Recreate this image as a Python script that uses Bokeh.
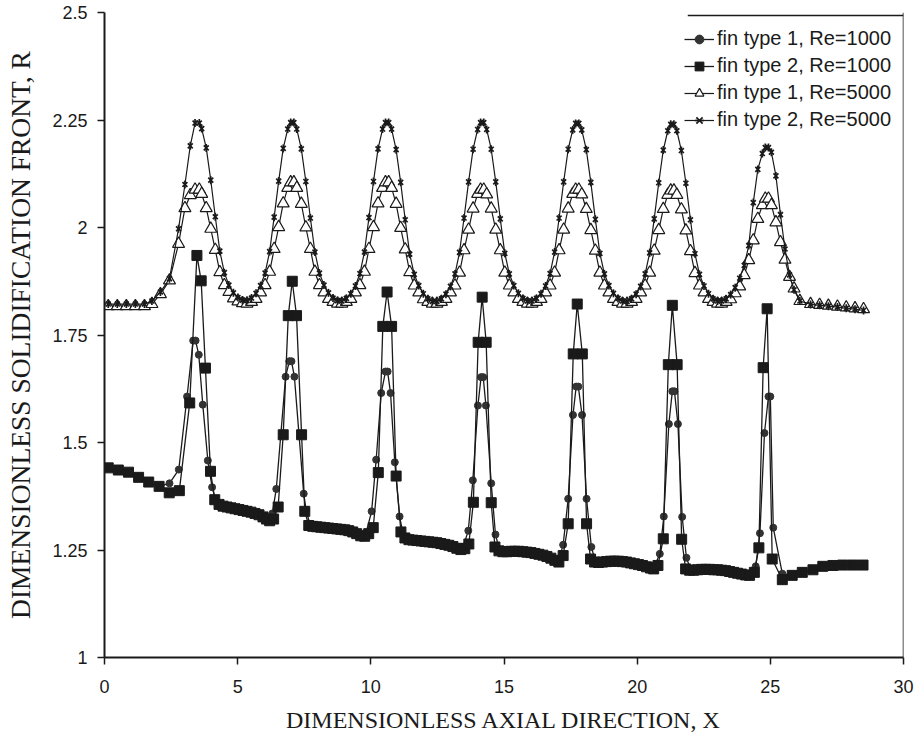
import numpy as np
from bokeh.plotting import figure
from bokeh.models import Range1d, FixedTicker, CustomJSTickFormatter, Legend, LegendItem, Span
from bokeh.embed import file_html
from bokeh.resources import INLINE

# ---------------- data ----------------
x_ticks = [0, 5, 10, 15, 20, 25, 30]
y_ticks = [1.0, 1.25, 1.5, 1.75, 2.0, 2.25, 2.5]

series_labels = ["fin type 1, Re=1000", "fin type 2, Re=1000",
                 "fin type 1, Re=5000", "fin type 2, Re=5000"]

# Re = 5000 (shared axial positions)
x_re5000 = [0.14, 0.48, 0.82, 1.16, 1.50, 1.78, 2.10, 2.44, 2.78, 3.02, 3.22, 3.40, 3.56,
            3.65, 3.82, 3.99, 4.16, 4.33, 4.50, 4.67, 4.84, 5.01, 5.18,
            5.35, 5.52, 5.69, 5.86, 6.03, 6.20, 6.37, 6.54, 6.71, 6.88, 6.99, 7.11,
            7.22, 7.39, 7.56, 7.73, 7.90, 8.07, 8.24, 8.41, 8.58, 8.75,
            8.91, 9.08, 9.25, 9.42, 9.59, 9.76, 9.93, 10.10, 10.27, 10.44, 10.55, 10.67,
            10.78, 10.95, 11.12, 11.29, 11.46, 11.63, 11.80, 11.97, 12.14, 12.31,
            12.48, 12.65, 12.82, 12.99, 13.16, 13.33, 13.50, 13.67, 13.84, 14.01, 14.12, 14.24,
            14.35, 14.52, 14.69, 14.86, 15.03, 15.20, 15.37, 15.54, 15.71, 15.88,
            16.05, 16.22, 16.39, 16.56, 16.73, 16.90, 17.07, 17.24, 17.41, 17.58, 17.69, 17.81,
            17.92, 18.09, 18.26, 18.43, 18.60, 18.77, 18.94, 19.11, 19.28, 19.45,
            19.62, 19.79, 19.96, 20.13, 20.30, 20.47, 20.64, 20.81, 20.98, 21.15, 21.26, 21.38,
            21.49, 21.66, 21.83, 22.00, 22.17, 22.34, 22.51, 22.68, 22.85, 23.02,
            23.17, 23.34, 23.51, 23.68, 23.85, 24.02, 24.19, 24.36, 24.53, 24.70, 24.81, 24.93,
            25.04, 25.21, 25.38, 25.55, 25.72, 25.89, 26.11, 26.51, 26.85, 27.18, 27.52, 27.85, 28.18, 28.50]

r_type2_re5000 = [1.822, 1.822, 1.822, 1.822, 1.822, 1.829, 1.850, 1.881, 1.997, 2.100, 2.190, 2.243, 2.243,
                  2.230, 2.185, 2.110, 2.025, 1.945, 1.895, 1.866, 1.848, 1.837, 1.831,
                  1.830, 1.836, 1.847, 1.865, 1.894, 1.944, 2.024, 2.108, 2.184, 2.229, 2.244, 2.244,
                  2.229, 2.183, 2.107, 2.022, 1.943, 1.894, 1.866, 1.848, 1.836, 1.830,
                  1.829, 1.835, 1.846, 1.864, 1.893, 1.943, 2.023, 2.107, 2.183, 2.229, 2.244, 2.244,
                  2.229, 2.181, 2.105, 2.018, 1.938, 1.891, 1.865, 1.846, 1.834, 1.828,
                  1.828, 1.834, 1.845, 1.863, 1.892, 1.942, 2.022, 2.106, 2.182, 2.228, 2.244, 2.244,
                  2.228, 2.182, 2.106, 2.020, 1.940, 1.892, 1.865, 1.847, 1.835, 1.829,
                  1.829, 1.835, 1.846, 1.864, 1.893, 1.943, 2.022, 2.106, 2.182, 2.227, 2.242, 2.242,
                  2.227, 2.181, 2.105, 2.019, 1.940, 1.892, 1.865, 1.847, 1.835, 1.829,
                  1.828, 1.834, 1.845, 1.863, 1.892, 1.941, 2.020, 2.104, 2.180, 2.225, 2.240, 2.240,
                  2.225, 2.179, 2.103, 2.018, 1.939, 1.891, 1.864, 1.846, 1.834, 1.829,
                  1.829, 1.834, 1.844, 1.860, 1.882, 1.912, 1.958, 2.058, 2.135, 2.172, 2.186, 2.186,
                  2.175, 2.120, 2.030, 1.950, 1.890, 1.855, 1.829, 1.821, 1.819, 1.817, 1.815, 1.812, 1.810, 1.807]

r_type1_re5000 = [1.817, 1.817, 1.817, 1.817, 1.817, 1.822, 1.845, 1.877, 1.962, 2.045, 2.075, 2.088, 2.088,
                  2.078, 2.045, 1.997, 1.948, 1.896, 1.866, 1.850, 1.835, 1.828, 1.824,
                  1.823, 1.827, 1.834, 1.849, 1.866, 1.897, 1.950, 2.001, 2.056, 2.092, 2.105, 2.105,
                  2.092, 2.055, 2.000, 1.950, 1.897, 1.866, 1.849, 1.834, 1.827, 1.823,
                  1.823, 1.827, 1.834, 1.849, 1.866, 1.897, 1.950, 2.001, 2.056, 2.092, 2.105, 2.105,
                  2.092, 2.055, 1.999, 1.949, 1.896, 1.865, 1.849, 1.833, 1.827, 1.823,
                  1.823, 1.827, 1.834, 1.849, 1.865, 1.895, 1.947, 1.995, 2.044, 2.078, 2.088, 2.088,
                  2.077, 2.044, 1.995, 1.947, 1.895, 1.865, 1.849, 1.834, 1.827, 1.823,
                  1.823, 1.827, 1.834, 1.849, 1.865, 1.895, 1.947, 1.995, 2.044, 2.078, 2.088, 2.088,
                  2.077, 2.043, 1.994, 1.946, 1.895, 1.865, 1.849, 1.834, 1.827, 1.823,
                  1.823, 1.827, 1.834, 1.849, 1.865, 1.895, 1.946, 1.994, 2.043, 2.076, 2.086, 2.086,
                  2.076, 2.042, 1.993, 1.945, 1.894, 1.865, 1.849, 1.834, 1.827, 1.823,
                  1.823, 1.827, 1.833, 1.847, 1.863, 1.889, 1.924, 1.970, 2.020, 2.052, 2.067, 2.067,
                  2.052, 2.012, 1.966, 1.925, 1.885, 1.858, 1.829, 1.822, 1.820, 1.818, 1.816, 1.814, 1.812, 1.810]

# Re = 1000, fin type 2 (squares)
x_type2_re1000 = [0.14, 0.52, 0.90, 1.28, 1.66, 2.05, 2.43, 2.81,
                  3.20, 3.47, 3.63, 3.79, 3.98, 4.14,
                  4.30, 4.45, 4.60, 4.75, 4.90, 5.05, 5.20, 5.35, 5.50, 5.65, 5.80, 5.95, 6.08, 6.20, 6.35,
                  6.52, 6.71, 6.90, 7.05, 7.21, 7.40, 7.52, 7.67,
                  7.82, 7.97, 8.12, 8.27, 8.42, 8.57, 8.72, 8.87, 9.02, 9.17, 9.32, 9.47, 9.62, 9.77, 9.92,
                  10.09, 10.28, 10.45, 10.61, 10.78, 10.95, 11.13,
                  11.28, 11.43, 11.58, 11.73, 11.88, 12.03, 12.18, 12.33, 12.48, 12.63, 12.78, 12.93, 13.08, 13.23, 13.38, 13.53,
                  13.68, 13.85, 14.03, 14.18, 14.33, 14.52, 14.66,
                  14.81, 14.96, 15.11, 15.26, 15.41, 15.56, 15.71, 15.86, 16.01, 16.16, 16.31, 16.46, 16.61, 16.76, 16.91, 17.06,
                  17.22, 17.41, 17.60, 17.75, 17.94, 18.10, 18.25,
                  18.40, 18.55, 18.70, 18.85, 19.00, 19.15, 19.30, 19.45, 19.60, 19.75, 19.90, 20.05, 20.20, 20.35, 20.50, 20.62,
                  20.78, 20.98, 21.17, 21.32, 21.50, 21.67, 21.82,
                  21.97, 22.12, 22.27, 22.42, 22.57, 22.72, 22.87, 23.02, 23.17, 23.32, 23.47, 23.62, 23.77, 23.92, 24.07, 24.22, 24.40,
                  24.57, 24.73, 24.88, 25.07, 25.45,
                  25.82, 26.20, 26.60, 26.97, 27.35, 27.72, 28.10, 28.48]
r_type2_re1000 = [1.441, 1.436, 1.431, 1.419, 1.408, 1.398, 1.383, 1.388,
                  1.592, 1.935, 1.876, 1.673, 1.433, 1.367,
                  1.356, 1.352, 1.350, 1.348, 1.346, 1.344, 1.342, 1.340, 1.338, 1.335, 1.332, 1.327, 1.322, 1.318, 1.322,
                  1.350, 1.518, 1.795, 1.875, 1.795, 1.518, 1.340, 1.307,
                  1.305, 1.304, 1.303, 1.302, 1.301, 1.300, 1.299, 1.298, 1.297, 1.295, 1.292, 1.288, 1.283, 1.282, 1.288,
                  1.302, 1.430, 1.770, 1.850, 1.770, 1.422, 1.292,
                  1.278, 1.274, 1.273, 1.272, 1.271, 1.270, 1.269, 1.268, 1.267, 1.265, 1.263, 1.261, 1.258, 1.254, 1.251, 1.253,
                  1.264, 1.361, 1.733, 1.838, 1.733, 1.360, 1.257,
                  1.248, 1.246, 1.246, 1.247, 1.247, 1.247, 1.246, 1.245, 1.244, 1.242, 1.240, 1.238, 1.235, 1.231, 1.226, 1.222,
                  1.237, 1.311, 1.706, 1.822, 1.706, 1.311, 1.229,
                  1.222, 1.221, 1.222, 1.223, 1.224, 1.224, 1.224, 1.223, 1.222, 1.220, 1.218, 1.216, 1.214, 1.211, 1.208, 1.206,
                  1.214, 1.276, 1.681, 1.819, 1.681, 1.275, 1.206,
                  1.203, 1.203, 1.204, 1.205, 1.205, 1.205, 1.204, 1.204, 1.203, 1.202, 1.200, 1.198, 1.196, 1.194, 1.192, 1.191, 1.198,
                  1.255, 1.674, 1.811, 1.229, 1.181,
                  1.191, 1.198, 1.204, 1.212, 1.214, 1.215, 1.215, 1.215]

# Re = 1000, fin type 1 (circles)
x_type1_re1000 = [0.14, 0.52, 0.90, 1.28, 1.66, 2.05, 2.44, 2.79,
                  3.10, 3.33, 3.42, 3.54, 3.69, 3.88, 4.04, 4.20,
                  4.35, 4.50, 4.65, 4.80, 4.95, 5.10, 5.25, 5.40, 5.55, 5.70, 5.85, 6.00, 6.15, 6.30,
                  6.45, 6.80, 6.94, 7.02, 7.13, 7.48, 7.57, 7.72,
                  7.87, 8.02, 8.17, 8.32, 8.47, 8.62, 8.77, 8.92, 9.07, 9.22, 9.37, 9.52, 9.67, 9.82,
                  10.03, 10.20, 10.39, 10.55, 10.63, 10.74, 10.90, 11.08, 11.22,
                  11.37, 11.52, 11.67, 11.82, 11.97, 12.12, 12.27, 12.42, 12.57, 12.72, 12.87, 13.02, 13.17, 13.32, 13.47,
                  13.66, 13.83, 14.02, 14.14, 14.22, 14.32, 14.52, 14.68, 14.82,
                  14.97, 15.12, 15.27, 15.42, 15.57, 15.72, 15.87, 16.02, 16.17, 16.32, 16.47, 16.62, 16.77, 16.92, 17.07,
                  17.22, 17.41, 17.59, 17.71, 17.79, 17.93, 18.10, 18.28, 18.42,
                  18.57, 18.72, 18.87, 19.02, 19.17, 19.32, 19.47, 19.62, 19.77, 19.92, 20.07, 20.22, 20.37, 20.52, 20.67,
                  20.85, 21.00, 21.19, 21.32, 21.40, 21.53, 21.69, 21.85, 22.00,
                  22.15, 22.30, 22.45, 22.60, 22.75, 22.90, 23.05, 23.20, 23.35, 23.50, 23.65, 23.80, 23.95, 24.10, 24.25,
                  24.45, 24.61, 24.78, 24.93, 25.00, 25.11, 25.45,
                  25.82, 26.20, 26.60, 26.97, 27.35, 27.72, 28.10, 28.48]
r_type1_re1000 = [1.441, 1.436, 1.431, 1.419, 1.408, 1.398, 1.405, 1.437,
                  1.607, 1.737, 1.737, 1.704, 1.588, 1.458, 1.396, 1.362,
                  1.354, 1.351, 1.349, 1.347, 1.345, 1.343, 1.341, 1.339, 1.337, 1.334, 1.331, 1.326, 1.322, 1.335,
                  1.392, 1.653, 1.689, 1.689, 1.653, 1.381, 1.343, 1.308,
                  1.305, 1.304, 1.303, 1.302, 1.301, 1.300, 1.299, 1.298, 1.296, 1.294, 1.291, 1.287, 1.284, 1.290,
                  1.340, 1.460, 1.615, 1.665, 1.665, 1.615, 1.454, 1.328, 1.284,
                  1.275, 1.273, 1.272, 1.271, 1.270, 1.269, 1.268, 1.267, 1.266, 1.264, 1.262, 1.259, 1.256, 1.253, 1.258,
                  1.295, 1.412, 1.586, 1.652, 1.652, 1.586, 1.405, 1.286, 1.252,
                  1.246, 1.246, 1.247, 1.247, 1.247, 1.246, 1.245, 1.244, 1.242, 1.240, 1.238, 1.235, 1.231, 1.227, 1.230,
                  1.262, 1.369, 1.564, 1.630, 1.630, 1.564, 1.369, 1.257, 1.226,
                  1.221, 1.222, 1.223, 1.224, 1.224, 1.224, 1.223, 1.222, 1.220, 1.218, 1.216, 1.214, 1.211, 1.209, 1.215,
                  1.241, 1.328, 1.543, 1.619, 1.619, 1.543, 1.327, 1.232, 1.206,
                  1.203, 1.204, 1.205, 1.205, 1.205, 1.204, 1.204, 1.203, 1.202, 1.200, 1.198, 1.196, 1.194, 1.192, 1.195,
                  1.212, 1.289, 1.522, 1.607, 1.607, 1.302, 1.195,
                  1.191, 1.198, 1.204, 1.212, 1.214, 1.215, 1.215, 1.215]

assert len(x_re5000) == len(r_type1_re5000) == len(r_type2_re5000)
assert len(x_type1_re1000) == len(r_type1_re1000)
assert len(x_type2_re1000) == len(r_type2_re1000)

# ---------------- figure ----------------
SANS = "Liberation Sans"
SERIF = "Liberation Serif"
INK = "#1a1a1a"

p = figure(width=915, height=738, output_backend="svg", toolbar_location=None,
           x_range=Range1d(0, 30), y_range=Range1d(1, 2.5),
           min_border_left=104, min_border_right=12, min_border_top=12, min_border_bottom=81)
p.grid.visible = False
p.outline_line_color = None
p.background_fill_color = "white"
p.border_fill_color = "white"

# right-hand edge of the plot area
p.add_layout(Span(location=30, dimension="height", line_color=INK, line_width=1.5))

for ax in (p.xaxis[0], p.yaxis[0]):
    ax.axis_line_color = INK
    ax.axis_line_width = 2
    ax.major_tick_line_color = INK
    ax.major_tick_line_width = 1.5
    ax.major_tick_in = 0
    ax.major_tick_out = 7
    ax.minor_tick_line_color = None
    ax.major_label_text_font = SANS
    ax.major_label_text_font_size = "18px"
    ax.major_label_text_color = INK
    ax.axis_label_text_font = SERIF
    ax.axis_label_text_font_style = "normal"
    ax.axis_label_text_color = INK
    ax.formatter = CustomJSTickFormatter(code="return String(tick);")

p.xaxis.ticker = FixedTicker(ticks=x_ticks)
p.yaxis.ticker = FixedTicker(ticks=y_ticks)
p.xaxis.axis_label = "DIMENSIONLESS AXIAL DIRECTION, X"
p.yaxis.axis_label = "DIMENSIONLESS SOLIDIFICATION FRONT, R"
p.xaxis.axis_label_text_font_size = "24px"
p.yaxis.axis_label_text_font_size = "27.5px"
p.xaxis.major_label_standoff = 15
p.yaxis.major_label_standoff = 10
p.xaxis.axis_label_standoff = 11
p.yaxis.axis_label_standoff = 13

# series 1: fin type 1, Re=1000 (small dark circles)
l1 = p.line(x_type1_re1000, r_type1_re1000, line_color=INK, line_width=1.3)
m1 = p.scatter(x_type1_re1000, r_type1_re1000, marker="circle", size=7,
               fill_color="#333333", line_color="#333333")
# series 2: fin type 2, Re=1000 (black squares)
l2 = p.line(x_type2_re1000, r_type2_re1000, line_color=INK, line_width=1.3)
m2 = p.scatter(x_type2_re1000, r_type2_re1000, marker="square", size=10,
               fill_color=INK, line_color=INK)
# series 3: fin type 1, Re=5000 (open triangles)
l3 = p.line(x_re5000, r_type1_re5000, line_color=INK, line_width=1.2)
m3 = p.scatter(x_re5000, r_type1_re5000, marker="triangle", size=12,
               fill_color="white", line_color=INK, line_width=1.2)
# series 4: fin type 2, Re=5000 (star)
l4 = p.line(x_re5000, r_type2_re5000, line_color=INK, line_width=1.2)
m4a = p.scatter(x_re5000, r_type2_re5000, marker="x", size=7, line_color=INK, line_width=1.7)
m4b = p.scatter(x_re5000, r_type2_re5000, marker="dash", size=8, angle=np.pi / 2,
                line_color=INK, line_width=1.7)

# legend (its frame shows only as the top edge joined to the right plot edge)
legend = Legend(items=[
    LegendItem(label=series_labels[0], renderers=[l1, m1]),
    LegendItem(label=series_labels[1], renderers=[l2, m2]),
    LegendItem(label=series_labels[2], renderers=[l3, m3]),
    LegendItem(label=series_labels[3], renderers=[l4, m4a, m4b]),
], location=(580, 526))
legend.margin = 0
legend.padding = 6
legend.spacing = 4
legend.glyph_width = 30
legend.glyph_height = 22
legend.label_height = 22
legend.label_standoff = 3
legend.label_text_font = SANS
legend.label_text_font_size = "20px"
legend.label_text_color = INK
legend.border_line_color = None
legend.background_fill_alpha = 0.0
p.add_layout(legend)

# top edge over the legend
p.segment(x0=21.9, y0=2.493, x1=30, y1=2.493, line_color=INK, line_width=1.3)

open("out.html", "w").write(file_html(p, INLINE))
